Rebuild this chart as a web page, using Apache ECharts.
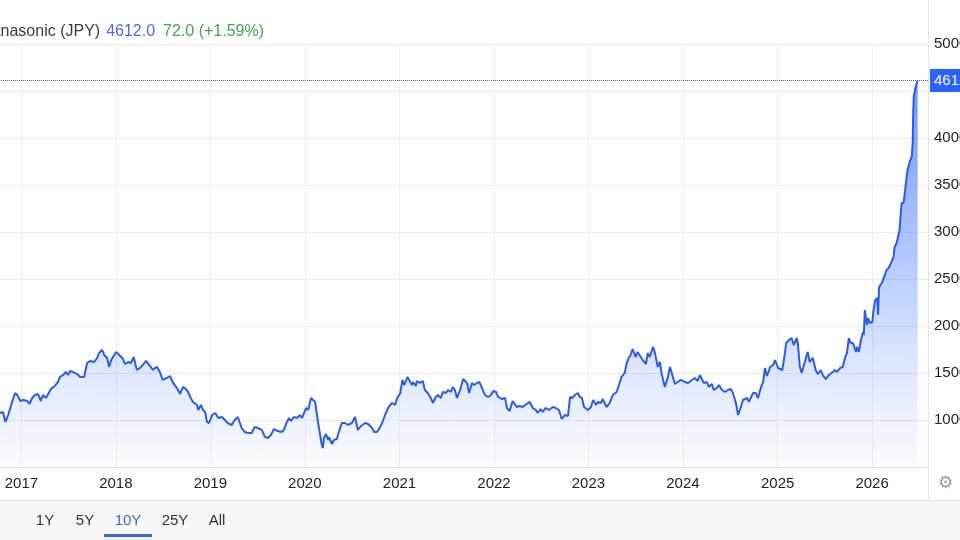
<!DOCTYPE html>
<html><head><meta charset="utf-8">
<script src="https://cdn.jsdelivr.net/npm/echarts@6/dist/echarts.min.js"></script>
<style>
html,body{margin:0;padding:0;width:960px;height:540px;overflow:hidden;background:#fff}
#c{position:absolute;left:-60px;top:0;width:1020px;height:540px}
</style>
</head><body><div id="c"></div>
<script>
// ---- data ----
const titleName = 'Panasonic (JPY)';
const lastPrice = 4612.0;
const changeText = '72.0 (+1.59%)';
const rangeButtons = ['1Y', '5Y', '10Y', '25Y', 'All'];
const activeRange = '10Y';
const axisMin = '2016-06-28';
const axisMax = '2026-08-05';
const yMin = 500, yMax = 5000, yStep = 500;

const dates = [
'2016-06-30','2016-07-25','2016-08-20','2016-09-15','2016-10-11','2016-10-22','2016-10-31','2016-11-11','2016-11-26','2016-12-08','2016-12-16','2016-12-28',
'2017-01-08','2017-01-24','2017-02-01','2017-02-12','2017-02-22','2017-03-06','2017-03-17','2017-03-25','2017-04-06','2017-04-13','2017-04-25','2017-05-10','2017-05-22','2017-05-30','2017-06-11','2017-06-22','2017-06-30','2017-07-08','2017-07-19','2017-08-04','2017-08-16','2017-08-31','2017-09-12','2017-09-23','2017-10-09','2017-10-21','2017-10-28','2017-11-09','2017-11-17','2017-11-28','2017-12-06','2017-12-14','2017-12-21',
'2018-01-02','2018-01-10','2018-01-26','2018-02-06','2018-02-17','2018-02-28','2018-03-11','2018-03-23','2018-04-04','2018-04-15','2018-04-27','2018-05-04','2018-05-16','2018-05-24','2018-06-01','2018-06-09','2018-06-20','2018-07-01','2018-07-17','2018-07-29','2018-08-10','2018-08-25','2018-09-06','2018-09-17','2018-09-25','2018-10-07','2018-10-15','2018-10-26','2018-11-11','2018-11-15','2018-11-26','2018-12-04','2018-12-12','2018-12-19','2018-12-27',
'2019-01-08','2019-01-20','2019-02-01','2019-02-15','2019-02-26','2019-03-09','2019-03-25','2019-04-05','2019-04-17','2019-04-24','2019-05-02','2019-05-14','2019-05-26','2019-06-10','2019-06-21','2019-07-03','2019-07-19','2019-07-31','2019-08-11','2019-08-23','2019-09-04','2019-09-19','2019-10-04','2019-10-12','2019-10-24','2019-11-01','2019-11-09','2019-11-20','2019-12-02','2019-12-13','2019-12-21',
'2020-01-06','2020-01-14','2020-01-25','2020-02-02','2020-02-10','2020-02-17','2020-02-21','2020-02-28','2020-03-07','2020-03-11','2020-03-15','2020-03-23','2020-03-31','2020-04-03','2020-04-15','2020-04-22','2020-05-04','2020-05-08','2020-05-23','2020-06-04','2020-06-16','2020-07-01','2020-07-13','2020-07-24','2020-08-05','2020-08-21','2020-09-02','2020-09-17','2020-09-25','2020-10-06','2020-10-14','2020-10-26','2020-11-06','2020-11-18','2020-12-03','2020-12-15','2020-12-23',
'2021-01-04','2021-01-12','2021-01-19','2021-02-01','2021-02-07','2021-02-18','2021-02-22','2021-03-05','2021-03-09','2021-03-20','2021-04-01','2021-04-09','2021-04-20','2021-05-02','2021-05-10','2021-05-21','2021-05-29','2021-06-10','2021-06-17','2021-06-29','2021-07-07','2021-07-18','2021-07-26','2021-08-03','2021-08-11','2021-08-23','2021-09-04','2021-09-11','2021-09-19','2021-09-27','2021-10-08','2021-10-16','2021-10-28','2021-11-05','2021-11-16','2021-11-27','2021-12-09','2021-12-21','2021-12-29',
'2022-01-09','2022-01-17','2022-02-02','2022-02-13','2022-02-20','2022-03-03','2022-03-14','2022-03-30','2022-04-10','2022-04-22','2022-05-07','2022-05-19','2022-05-31','2022-06-12','2022-06-19','2022-06-30','2022-07-08','2022-07-20','2022-08-01','2022-08-17','2022-08-28','2022-09-09','2022-09-20','2022-10-02','2022-10-14','2022-10-22','2022-10-30','2022-11-10','2022-11-21','2022-11-29','2022-12-07','2022-12-15','2022-12-30',
'2023-01-11','2023-01-19','2023-01-31','2023-02-07','2023-02-18','2023-02-25','2023-03-12','2023-03-24','2023-04-05','2023-04-20','2023-05-01','2023-05-09','2023-05-21','2023-05-29','2023-06-06','2023-06-13','2023-06-21','2023-07-02','2023-07-10','2023-07-22','2023-07-30','2023-08-11','2023-08-18','2023-08-26','2023-09-07','2023-09-14','2023-09-22','2023-09-26','2023-10-04','2023-10-12','2023-10-23','2023-11-04','2023-11-12','2023-11-19','2023-12-01','2023-12-12','2023-12-24',
'2024-01-09','2024-01-21','2024-02-05','2024-02-16','2024-02-27','2024-03-06','2024-03-14','2024-03-22','2024-04-03','2024-04-10','2024-04-22','2024-04-29','2024-05-11','2024-05-19','2024-05-31','2024-06-11','2024-06-23','2024-07-04','2024-07-12','2024-07-24','2024-08-01','2024-08-12','2024-08-20','2024-09-05','2024-09-12','2024-09-28','2024-10-09','2024-10-17','2024-10-29','2024-11-06','2024-11-13','2024-11-21','2024-12-03','2024-12-14','2024-12-22',
'2025-01-03','2025-01-19','2025-01-27','2025-02-03','2025-02-14','2025-02-24','2025-03-04','2025-03-16','2025-03-20','2025-03-28','2025-04-04','2025-04-16','2025-04-27','2025-05-05','2025-05-17','2025-05-28','2025-06-05','2025-06-17','2025-06-24','2025-07-06','2025-07-18','2025-08-02','2025-08-10','2025-08-18','2025-08-30','2025-09-10','2025-09-18','2025-09-26','2025-10-03','2025-10-11','2025-10-19','2025-10-31','2025-11-04','2025-11-11','2025-11-19','2025-11-27','2025-11-30','2025-12-04','2025-12-12','2025-12-16','2025-12-24',
'2026-01-02','2026-01-05','2026-01-13','2026-01-21','2026-01-24','2026-01-28','2026-02-08','2026-02-15','2026-02-22','2026-02-26','2026-03-06','2026-03-17','2026-03-25','2026-03-29','2026-04-06','2026-04-10','2026-04-17','2026-04-25','2026-04-29','2026-05-03','2026-05-10','2026-05-18','2026-05-26','2026-06-03','2026-06-07','2026-06-09','2026-06-11','2026-06-18','2026-06-26'
];
const prices = [
960,1010,1080,1050,1074,1085,979,1053,1192,1287,1266,1202,
1213,1202,1170,1234,1266,1277,1202,1266,1234,1245,1330,1362,1404,1458,1479,1511,1479,1521,1511,1489,1458,1458,1606,1628,1617,1660,1713,1745,1692,1660,1564,1638,1649,
1724,1702,1660,1596,1617,1606,1670,1532,1553,1585,1628,1628,1564,1532,1553,1564,1511,1426,1447,1468,1394,1340,1277,1351,1340,1298,1245,1192,1160,1106,1160,1106,1085,979,968,
1053,1074,1021,1032,1000,968,947,1000,1032,979,915,872,862,862,926,915,894,819,808,840,904,883,872,894,979,1021,989,1032,1021,1053,1021,
1128,1106,1234,1213,1192,1053,979,862,734,702,808,851,787,819,745,787,798,840,968,968,947,968,1032,894,936,968,957,915,872,872,904,968,1053,1128,1181,1160,1234,
1287,1426,1372,1458,1426,1372,1404,1362,1415,1394,1415,1319,1287,1234,1181,1245,1266,1234,1298,1287,1319,1298,1351,1319,1234,1319,1436,1415,1394,1287,1394,1372,1394,1404,1340,1266,1245,1266,1309,
1298,1245,1223,1234,1128,1096,1202,1138,1149,1138,1170,1192,1128,1106,1074,1117,1085,1128,1106,1138,1128,1106,1011,1053,1043,1245,1234,1266,1287,1245,1234,1138,1106,
1138,1213,1160,1192,1181,1223,1138,1181,1266,1298,1394,1458,1500,1606,1660,1692,1755,1670,1724,1670,1638,1596,1713,1670,1777,1724,1617,1564,1617,1479,1351,1458,1564,1500,1383,1404,1426,
1404,1394,1426,1447,1415,1479,1436,1394,1404,1351,1383,1319,1340,1372,1319,1298,1319,1330,1287,1181,1053,1138,1213,1234,1192,1287,1287,1234,1351,1404,1553,1468,1564,1585,1638,
1553,1532,1670,1819,1851,1872,1798,1872,1819,1564,1500,1617,1724,1617,1660,1532,1489,1532,1479,1436,1479,1511,1532,1511,1553,1564,1660,1713,1872,1819,1819,1724,1777,1724,1851,1936,1904,2170,2011,2085,2032,
2043,2138,2277,2298,2117,2415,2458,2511,2522,2596,2617,2681,2734,2841,2883,2894,3022,3309,3320,3309,3479,3660,3745,3798,3947,4298,4437,4543,4612
];

// ---- chart ----
const OX = 60; // container is shifted left by this many px (page is cropped)
const FONT = '"Liberation Sans", Arial, Helvetica, sans-serif';
const BLUE = '#2962ff';
const seriesData = dates.map((d, i) => [d, prices[i]]);

const btnX = [45, 85, 128, 175, 217];
const graphics = [
  { type: 'rect', shape: { x: 0, y: 500, width: 1020, height: 40 }, style: { fill: '#f6f6f6' }, z: 0 },
  { type: 'line', shape: { x1: 0, y1: 500.5, x2: 1020, y2: 500.5 }, style: { stroke: '#e2e2e2', lineWidth: 1 } },
  { type: 'line', shape: { x1: OX + 928.5, y1: 0, x2: OX + 928.5, y2: 500 }, style: { stroke: '#e4e4e4', lineWidth: 1 } },
  { type: 'text', x: OX + 938, y: 484, style: { text: '\u2699', fontSize: 17, fill: '#9a9a9a', textVerticalAlign: 'middle', fontFamily: '"DejaVu Sans", sans-serif' } }
];
rangeButtons.forEach((b, i) => {
  graphics.push({ type: 'text', x: OX + btnX[i], y: 521,
    style: { text: b, fontSize: 15, fontFamily: FONT, fill: b === activeRange ? '#3a66d6' : '#333',
      textAlign: 'center', textVerticalAlign: 'middle' } });
  if (b === activeRange) {
    graphics.push({ type: 'rect', shape: { x: OX + btnX[i] - 24, y: 534, width: 48, height: 3 }, style: { fill: '#3a66d6' } });
  }
});

const chart = echarts.init(document.getElementById('c'));
chart.setOption({
  animation: false,
  textStyle: { fontFamily: FONT },
  title: {
    left: OX - 24, top: 18,
    text: '{a|' + titleName + '}{b|' + lastPrice.toFixed(1) + '}{c|' + changeText + '}',
    textStyle: { fontWeight: 'normal', rich: {
      a: { fontSize: 16, color: '#3a3a3a', fontFamily: FONT, fontWeight: 'normal', lineHeight: 18 },
      b: { fontSize: 16, color: '#4a6bd6', fontFamily: FONT, fontWeight: 'normal', padding: [0, 0, 0, 6], lineHeight: 18 },
      c: { fontSize: 16, color: '#43a34f', fontFamily: FONT, fontWeight: 'normal', padding: [0, 0, 0, 8], lineHeight: 18 }
    } }
  },
  grid: { left: 33, right: 32, top: 44, bottom: 73, outerBoundsMode: 'none', containLabel: false },
  xAxis: {
    type: 'time', min: axisMin, max: axisMax,
    minInterval: 365 * 864e5, maxInterval: 366 * 864e5,
    axisLine: { show: true, lineStyle: { color: '#e4e4e4' } },
    axisTick: { show: false },
    splitLine: { show: true, lineStyle: { color: '#eeeeee' } },
    axisLabel: { formatter: '{yyyy}', fontSize: 15, color: '#222', margin: 9,
      showMinLabel: false, showMaxLabel: false, fontFamily: FONT }
  },
  yAxis: {
    type: 'value', position: 'right', min: yMin, max: yMax, interval: yStep,
    axisLine: { show: true, lineStyle: { color: '#e4e4e4' } },
    axisTick: { show: false },
    splitLine: { lineStyle: { color: '#ececec' } },
    axisLabel: { fontSize: 15, color: '#222', margin: 6, fontFamily: FONT,
      formatter: v => (v === yMin || v === 4500) ? '' : String(v) }
  },
  series: [{
    type: 'line', data: seriesData, symbol: 'none', smooth: false,
    lineStyle: { color: '#2b5ce6', width: 2 },
    areaStyle: { color: new echarts.graphic.LinearGradient(0, 0, 0, 1, [
      { offset: 0, color: 'rgba(41,98,255,0.95)' },
      { offset: 0.35, color: 'rgba(41,98,255,0.6)' },
      { offset: 0.7, color: 'rgba(41,98,255,0.25)' },
      { offset: 1, color: 'rgba(41,98,255,0.03)' }
    ]) },
    markLine: {
      silent: true, symbol: 'none', animation: false,
      data: [{ yAxis: lastPrice }],
      lineStyle: { type: 'dotted', color: '#4a5a80', width: 1 },
      label: { position: 'end', distance: 2, formatter: lastPrice.toFixed(1),
        backgroundColor: BLUE, color: '#fff', fontSize: 15, padding: [4, 4, 4, 4], fontFamily: FONT }
    }
  }],
  graphic: graphics
});
</script></body></html>
